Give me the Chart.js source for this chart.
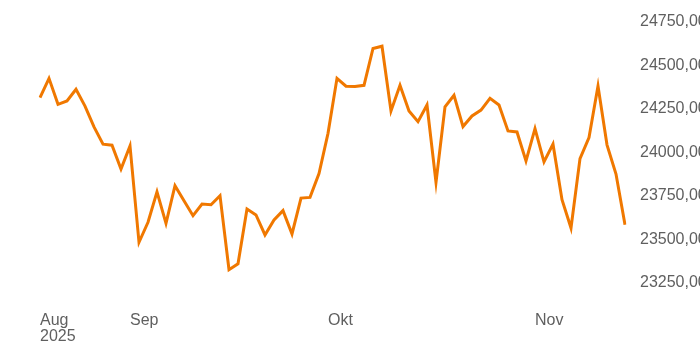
<!DOCTYPE html>
<html>
<head>
<meta charset="utf-8">
<script src="https://cdn.jsdelivr.net/npm/chart.js@4.4.0/dist/chart.umd.min.js"></script>
<style>
  html, body { margin: 0; padding: 0; background: #fff; }
  #wrap { width: 700px; height: 350px; }
</style>
</head>
<body>
<div id="wrap"><canvas id="indexChart"></canvas></div>
<script>
const dates = [
  "18.08.", "19.08.", "20.08.", "21.08.", "22.08.", "25.08.", "26.08.", "27.08.", "28.08.", "29.08.",
  "01.09.", "02.09.", "03.09.", "04.09.", "05.09.", "08.09.", "09.09.", "10.09.", "11.09.", "12.09.",
  "15.09.", "16.09.", "17.09.", "18.09.", "19.09.", "22.09.", "23.09.", "24.09.", "25.09.", "26.09.",
  "29.09.", "30.09.",
  "01.10.", "02.10.", "03.10.", "06.10.", "07.10.", "08.10.", "09.10.", "10.10.", "13.10.", "14.10.",
  "15.10.", "16.10.", "17.10.", "20.10.", "21.10.", "22.10.", "23.10.", "24.10.", "27.10.", "28.10.",
  "29.10.", "30.10.", "31.10.",
  "03.11.", "04.11.", "05.11.", "06.11.", "07.11.", "10.11.", "11.11.", "12.11.", "13.11.", "14.11.",
  "17.11."
];

const closes = [
  24315, 24426, 24277, 24296, 24363, 24267, 24147, 24048, 24042, 23905,
  24038, 23484, 23599, 23774, 23593, 23809, 23723, 23637, 23704, 23700,
  23752, 23326, 23360, 23675, 23641, 23526, 23612, 23666, 23532, 23738,
  23742, 23879,
  24110, 24426, 24381, 24380, 24386, 24598, 24611, 24239, 24386, 24239,
  24177, 24273, 23828, 24262, 24329, 24149, 24210, 24244, 24311, 24273,
  24124, 24118, 23952,
  24137, 23946, 24048, 23729, 23566, 23965, 24086, 24382, 24044, 23876,
  23585
];

// month labels shown on the x axis, keyed by category index
const monthTicks = { 0: ["Aug", "2025"], 10: "Sep", 32: "Okt", 55: "Nov" };

const yMin = 23250;
const yMax = 24750;
const yStep = 250;

const labelColor = "#5f5f5f";
const lineColor = "#f07800";
const fontFamily = "'Liberation Sans', Arial, sans-serif";

new Chart(document.getElementById("indexChart"), {
  type: "line",
  data: {
    labels: dates,
    datasets: [
      {
        data: closes,
        borderColor: lineColor,
        borderWidth: 3,
        pointRadius: 0,
        tension: 0,
        fill: false,
      },
    ],
  },
  options: {
    responsive: true,
    maintainAspectRatio: false,
    animation: false,
    layout: {
      padding: { left: 40, top: 22, right: 0, bottom: 4 },
    },
    plugins: {
      legend: { display: false },
      tooltip: { enabled: false },
    },
    scales: {
      x: {
        offset: false,
        grid: { display: false },
        border: { display: false },
        afterFit: (scale) => {
          scale.height = 63;
        },
        ticks: {
          autoSkip: false,
          maxRotation: 0,
          align: "start",
          padding: 22,
          color: labelColor,
          font: { family: fontFamily, size: 16, lineHeight: 1 },
          callback: (value, index) => monthTicks[index] || "",
        },
      },
      y: {
        position: "right",
        min: yMin,
        max: yMax,
        grid: { display: false },
        border: { display: false },
        afterFit: (scale) => {
          scale.width = 75;
        },
        ticks: {
          stepSize: yStep,
          padding: 7,
          color: labelColor,
          font: { family: fontFamily, size: 16 },
          callback: (value) => value.toFixed(2).replace(".", ","),
        },
      },
    },
  },
});
</script>
</body>
</html>
